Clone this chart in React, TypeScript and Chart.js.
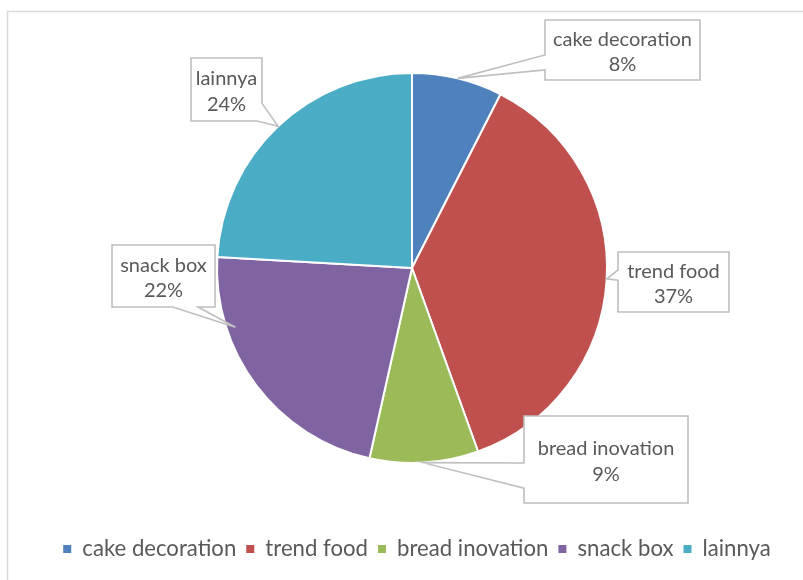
import React, { useEffect, useRef } from 'react';
import { Chart, registerables } from 'chart.js';

Chart.register(...registerables);

// ---- data ----
const categories = ['cake decoration', 'trend food', 'bread inovation', 'snack box', 'lainnya'];
const shares = [7.5, 37, 9, 22.4, 24.1];
const percentLabels = ['8%', '37%', '9%', '22%', '24%'];
const sliceColors = ['#4F81BD', '#C0504D', '#9BBB59', '#8064A2', '#4BACC6'];

const FONT = 'Lato, "Open Sans", "DejaVu Sans", sans-serif';
const TEXT_COLOR = '#595959';
const CALLOUT_STROKE = '#BFBFBF';

type Side = 'top' | 'right' | 'bottom' | 'left';
interface Callout {
  box: [number, number, number, number];
  tipFrac: number;
  tipR: number;
  base: [[Side, number], [Side, number]];
}

// callout layout (annotation boxes, one per slice)
const callouts: Callout[] = [
  { box: [545, 20, 155, 60], tipFrac: 0.5, tipR: 1.0, base: [['left', 10 / 12], ['left', 7 / 12]] },
  { box: [618, 252, 111, 60], tipFrac: 0.497, tipR: 1.0, base: [['left', 0.47], ['left', 0.3]] },
  { box: [524, 416, 164, 87], tipFrac: 0.51, tipR: 1.0, base: [['left', 0.83], ['left', 0.54]] },
  { box: [112, 245, 103, 62], tipFrac: 0.73, tipR: 0.955, base: [['bottom', 0.835], ['bottom', 0.59]] },
  { box: [191, 58, 71, 63], tipFrac: 0.5, tipR: 1.0, base: [['right', 0.72], ['bottom', 0.93]] },
];

function fitSize(text: string, target: number, base = 20): number {
  const c = document.createElement('canvas').getContext('2d')!;
  c.font = `${base}px ${FONT}`;
  return (base * target) / c.measureText(text).width;
}

export default function App() {
  const ref = useRef<HTMLCanvasElement | null>(null);

  useEffect(() => {
    document.body.style.margin = '0';
    const legendSize = fitSize('cake decoration', 154);
    const labelSize = fitSize('cake decoration', 139);

    const legendPad = 10;
    const legendTextY = 549;
    const pieCY = 268;
    const padBottom = 580 - legendTextY - legendSize / 2 - 10;
    const areaBottom = 580 - padBottom - (legendSize + legendPad + 10);
    const padTop = 2 * pieCY - areaBottom;

    const framePlugin = {
      id: 'frame',
      beforeDraw(chart: any) {
        const ctx = chart.ctx;
        ctx.save();
        ctx.fillStyle = '#FFFFFF';
        ctx.fillRect(0, 0, chart.width, chart.height);
        ctx.strokeStyle = '#D9D9D9';
        ctx.lineWidth = 1.5;
        ctx.beginPath();
        ctx.moveTo(7.5, chart.height + 5);
        ctx.lineTo(7.5, 11.5);
        ctx.lineTo(chart.width + 5, 11.5);
        ctx.stroke();
        ctx.restore();
      },
    };

    const legendShiftPlugin = {
      id: 'legendShift',
      afterLayout(chart: any) {
        const lg = chart.legend;
        if (lg) {
          lg.left += 5;
          lg.right += 5;
        }
      },
    };

    const calloutPlugin = {
      id: 'callouts',
      afterDatasetsDraw(chart: any) {
        const ctx = chart.ctx;
        const meta = chart.getDatasetMeta(0);
        ctx.save();
        callouts.forEach((co, i) => {
          const arc = meta.data[i];
          if (!arc) return;
          const p = arc.getProps(['x', 'y', 'startAngle', 'endAngle', 'outerRadius'], true);
          const a = p.startAngle + co.tipFrac * (p.endAngle - p.startAngle);
          const tip = [p.x + p.outerRadius * co.tipR * Math.cos(a), p.y + p.outerRadius * co.tipR * Math.sin(a)];
          const [l, t, w, h] = co.box;
          const sOf = (side: Side, f: number) => {
            if (side === 'top') return f * w;
            if (side === 'right') return w + f * h;
            if (side === 'bottom') return w + h + (1 - f) * w;
            return 2 * w + h + (1 - f) * h;
          };
          const pt = (s: number): [number, number] => {
            if (s <= w) return [l + s, t];
            if (s <= w + h) return [l + w, t + (s - w)];
            if (s <= 2 * w + h) return [l + w - (s - w - h), t + h];
            return [l, t + h - (s - 2 * w - h)];
          };
          let s1 = sOf(co.base[0][0], co.base[0][1]);
          let s2 = sOf(co.base[1][0], co.base[1][1]);
          if (s1 > s2) [s1, s2] = [s2, s1];
          const corners = [0, w, w + h, 2 * w + h];
          const pts: [number, number][] = [];
          corners.filter((s) => s < s1).forEach((s) => pts.push(pt(s)));
          pts.push(pt(s1));
          pts.push([tip[0], tip[1]]);
          pts.push(pt(s2));
          corners.filter((s) => s > s2).forEach((s) => pts.push(pt(s)));
          ctx.beginPath();
          pts.forEach((q, k) => (k === 0 ? ctx.moveTo(q[0], q[1]) : ctx.lineTo(q[0], q[1])));
          ctx.closePath();
          ctx.fillStyle = '#FFFFFF';
          ctx.fill();
          ctx.strokeStyle = CALLOUT_STROKE;
          ctx.lineWidth = 1.6;
          ctx.lineJoin = 'miter';
          ctx.stroke();

          ctx.fillStyle = TEXT_COLOR;
          ctx.font = `${labelSize}px ${FONT}`;
          ctx.textAlign = 'center';
          ctx.textBaseline = 'middle';
          const cx = l + w / 2;
          const cy = t + h / 2 + 2;
          ctx.fillText(categories[i], cx, cy - 12.5);
          ctx.fillText(percentLabels[i], cx, cy + 13);
        });
        ctx.restore();
      },
    };

    const baseGen = (Chart as any).overrides.doughnut.plugins.legend.labels.generateLabels;

    const chart = new Chart(ref.current!, {
      type: 'pie',
      data: {
        labels: categories,
        datasets: [
          {
            data: shares,
            backgroundColor: sliceColors,
            borderColor: '#FFFFFF',
            borderWidth: 2,
            radius: 195,
          } as any,
        ],
      },
      options: {
        responsive: false,
        animation: false,
        events: [],
        layout: { padding: { left: 21, right: 0, top: padTop, bottom: padBottom } },
        plugins: {
          tooltip: { enabled: false },
          legend: {
            position: 'bottom',
            labels: {
              boxWidth: 8,
              boxHeight: 8,
              padding: legendPad,
              color: TEXT_COLOR,
              font: { family: FONT, size: legendSize },
              generateLabels: (c: any) =>
                baseGen(c).map((it: any) => ({ ...it, lineWidth: 0, strokeStyle: it.fillStyle, fontColor: TEXT_COLOR })),
            },
          },
        },
      },
      plugins: [framePlugin, legendShiftPlugin, calloutPlugin],
    });
    return () => chart.destroy();
  }, []);

  return (
    <canvas
      ref={ref}
      width={803}
      height={580}
      style={{ position: 'absolute', left: 0, top: 0, width: 803, height: 580 }}
    />
  );
}
